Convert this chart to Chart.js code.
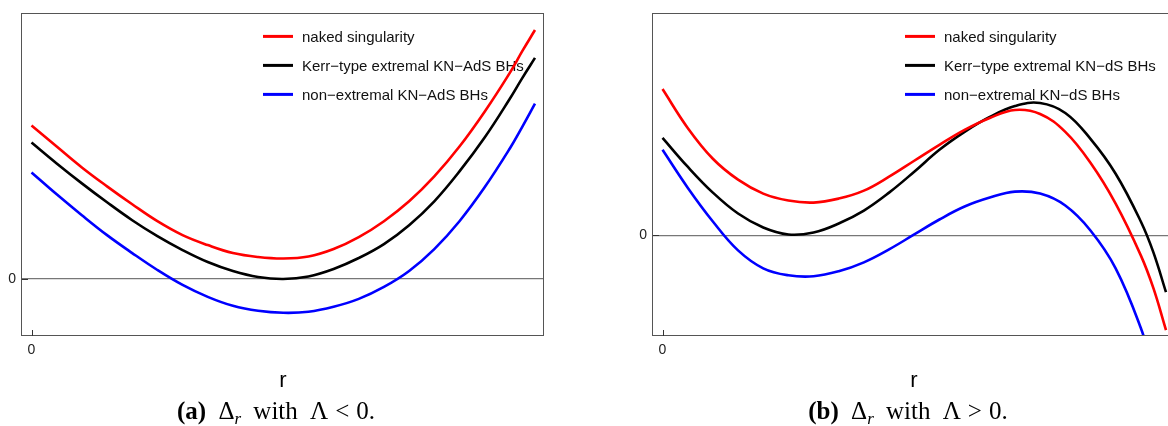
<!DOCTYPE html>
<html>
<head>
<meta charset="utf-8">
<script src="https://cdn.jsdelivr.net/npm/chart.js@4.4.1/dist/chart.umd.min.js"></script>
<style>
  html, body { margin: 0; padding: 0; background: #fff; }
  body { width: 1168px; height: 426px; overflow: hidden; position: relative; }
  canvas { position: absolute; top: 0; }
  .cap {
    position: absolute; top: 398px; width: 400px; text-align: center;
    font-family: "Liberation Serif", "DejaVu Serif", serif; font-size: 25px; color: #000;
    line-height: 25px; word-spacing: 6px; white-space: nowrap;
  }
  .cap sub { font-size: 17px; font-style: italic; vertical-align: -5px; line-height: 0; }
  .cap .rel { margin: 0 7px; }
</style>
</head>
<body>
<canvas id="chartAdS" width="560" height="400" style="left:0px"></canvas>
<canvas id="chartDS" width="600" height="400" style="left:600px"></canvas>
<div class="cap" style="left:76px"><b>(a)</b> Δ<sub>r</sub> with Λ<span class="rel">&lt;</span>0.</div>
<div class="cap" style="left:708px"><b>(b)</b> Δ<sub>r</sub> with Λ<span class="rel">&gt;</span>0.</div>
<script>
// radial coordinate (arbitrary units, 0 .. 1)
const rValues = [0, 0.05, 0.1, 0.15, 0.2, 0.25, 0.3, 0.35, 0.4, 0.45, 0.5, 0.55, 0.6, 0.65, 0.7, 0.75, 0.8, 0.85, 0.9, 0.95, 0.975, 1]

// panel (a): Lambda < 0
const nakedAdS = [1.54, 1.33, 1.12, 0.93, 0.75, 0.58, 0.44, 0.34, 0.26, 0.22, 0.205, 0.225, 0.30, 0.42, 0.58, 0.78, 1.03, 1.33, 1.68, 2.07, 2.29, 2.50]
const extremalAdS = [1.37, 1.16, 0.96, 0.77, 0.59, 0.43, 0.29, 0.17, 0.08, 0.02, 0.0, 0.025, 0.10, 0.21, 0.35, 0.54, 0.78, 1.08, 1.42, 1.81, 2.02, 2.22]
const nonExtremalAdS = [1.07, 0.85, 0.64, 0.44, 0.26, 0.09, -0.06, -0.18, -0.27, -0.32, -0.34, -0.33, -0.28, -0.20, -0.08, 0.08, 0.30, 0.58, 0.92, 1.31, 1.53, 1.76]

// panel (b): Lambda > 0
const nakedDS = [1.47, 1.08, 0.77, 0.56, 0.42, 0.35, 0.33, 0.37, 0.45, 0.59, 0.75, 0.91, 1.06, 1.18, 1.26, 1.22, 1.04, 0.73, 0.32, -0.20, -0.53, -0.95]
const extremalDS = [0.98, 0.69, 0.43, 0.22, 0.08, 0.01, 0.03, 0.12, 0.25, 0.43, 0.64, 0.86, 1.04, 1.19, 1.30, 1.33, 1.23, 0.97, 0.62, 0.14, -0.17, -0.57]
const nonExtremalDS = [0.86, 0.48, 0.14, -0.15, -0.33, -0.40, -0.41, -0.36, -0.27, -0.14, 0.01, 0.16, 0.29, 0.38, 0.44, 0.42, 0.30, 0.05, -0.33, -0.93, -1.35, -1.80]

const labelsAdS = ["naked singularity", "Kerr−type extremal KN−AdS BHs", "non−extremal KN−AdS BHs"]
const labelsDS = ["naked singularity", "Kerr−type extremal KN−dS BHs", "non−extremal KN−dS BHs"]
const colors = ["#ff0000", "#000000", "#0000ff"]

const xTicks = [0]
const yTicks = [0]

const sans = '"Liberation Sans", Arial, sans-serif'

// frame box, inner tick marks and the legend inside the plot
const framePlugin = {
  id: "frame",
  beforeDatasetsDraw(chart, args, opts) {
    const { ctx, chartArea: a } = chart
    ctx.save()
    ctx.font = "15px " + sans
    ctx.textBaseline = "middle"
    chart.data.datasets.forEach((ds, i) => {
      const yy = a.top + 22 + i * 29
      const x0 = a.left + opts.legendLeft
      ctx.strokeStyle = ds.borderColor
      ctx.lineWidth = 3
      ctx.beginPath()
      ctx.moveTo(x0, yy)
      ctx.lineTo(x0 + 30, yy)
      ctx.stroke()
      ctx.fillStyle = "#111"
      ctx.fillText(ds.label, x0 + 39, yy + 1)
    })
    ctx.restore()
  },
  afterDraw(chart) {
    const { ctx, chartArea: a, scales } = chart
    ctx.save()
    ctx.strokeStyle = "#555"
    ctx.lineWidth = 1
    ctx.strokeRect(Math.round(a.left) - 0.5, Math.round(a.top) - 0.5, Math.round(a.right - a.left), Math.round(a.bottom - a.top))
    ctx.strokeStyle = "#333"
    xTicks.forEach((v) => {
      const px = Math.round(scales.x.getPixelForValue(v)) + 0.5
      ctx.beginPath()
      ctx.moveTo(px, a.bottom)
      ctx.lineTo(px, a.bottom - 6)
      ctx.stroke()
    })
    yTicks.forEach((v) => {
      const py = Math.round(scales.y.getPixelForValue(v)) + 0.5
      ctx.beginPath()
      ctx.moveTo(a.left, py)
      ctx.lineTo(a.left + 6, py)
      ctx.stroke()
    })
    ctx.restore()
  },
}

function makeChart(id, labels, series, yMin, yMax, axisWidth, padRight, legendLeft) {
  const el = document.getElementById(id)
  return new Chart(el, {
    type: "line",
    data: {
      datasets: series.map((ys, i) => ({
        label: labels[i],
        data: rValues.map((r, j) => ({ x: r, y: ys[j] })),
        borderColor: colors[i],
        borderWidth: 2.6,
        pointRadius: 0,
        fill: false,
        tension: 0.4,
      })),
    },
    options: {
      responsive: false,
      animation: false,
      devicePixelRatio: 1,
      layout: { padding: { top: 13, right: padRight, left: 0, bottom: 0 } },
      plugins: {
        legend: { display: false },
        tooltip: { enabled: false },
        frame: { legendLeft: legendLeft },
      },
      scales: {
        x: {
          type: "linear",
          min: -0.0189,
          max: 1.0179,
          afterBuildTicks: (scale) => { scale.ticks = xTicks.map((v) => ({ value: v })) },
          afterFit: (scale) => { scale.height = 64 },
          grid: { display: false, drawTicks: false },
          border: { display: false },
          ticks: { padding: 6, color: "#222", font: { family: sans, size: 14 } },
          title: { display: true, text: "r", color: "#000", font: { family: sans, size: 22 }, padding: { top: 0, bottom: 6 } },
        },
        y: {
          type: "linear",
          min: yMin,
          max: yMax,
          afterBuildTicks: (scale) => { scale.ticks = yTicks.map((v) => ({ value: v })) },
          afterFit: (scale) => { scale.width = axisWidth },
          grid: { color: "#777", lineWidth: 1.2, drawTicks: false },
          border: { display: false },
          ticks: { padding: 6, color: "#222", font: { family: sans, size: 14 } },
        },
      },
    },
    plugins: [framePlugin],
  })
}

makeChart("chartAdS", labelsAdS, [nakedAdS, extremalAdS, nonExtremalAdS], -0.573, 2.657, 22, 16, 241)
makeChart("chartDS", labelsDS, [nakedDS, extremalDS, nonExtremalDS], -1.01, 2.22, 53, 25, 252)
</script>
</body>
</html>
